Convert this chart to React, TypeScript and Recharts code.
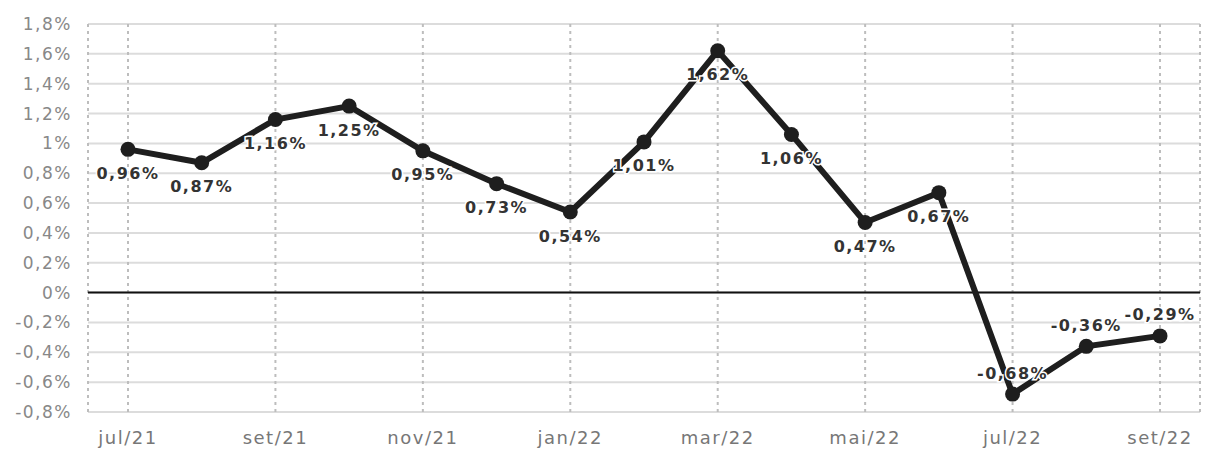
import {
  LineChart,
  Line,
  XAxis,
  YAxis,
  CartesianGrid,
  ReferenceLine,
  LabelList,
} from 'recharts';

const months = [
  'jul/21', 'ago/21', 'set/21', 'out/21', 'nov/21', 'dez/21', 'jan/22', 'fev/22',
  'mar/22', 'abr/22', 'mai/22', 'jun/22', 'jul/22', 'ago/22', 'set/22',
];
const ipca = [0.96, 0.87, 1.16, 1.25, 0.95, 0.73, 0.54, 1.01, 1.62, 1.06, 0.47, 0.67, -0.68, -0.36, -0.29];
const yTicks = [-0.8, -0.6, -0.4, -0.2, 0, 0.2, 0.4, 0.6, 0.8, 1, 1.2, 1.4, 1.6, 1.8];

const chartData = months.map((month, i) => ({ month, value: ipca[i] }));

const FONT = '"DejaVu Sans", Verdana, sans-serif';

function formatPct(v: number, digits: number): string {
  const s = digits === 1 ? String(Number(v.toFixed(1))) : v.toFixed(digits);
  return s.replace('.', ',') + '%';
}

function ValueLabel(props: any) {
  const { x, y, value } = props;
  const dy = value < 0 ? -21 : 24;
  return (
    <text
      x={x}
      y={y + dy}
      textAnchor="middle"
      dominantBaseline="central"
      fontFamily={FONT}
      fontSize={16}
      fontWeight="bold"
      letterSpacing={1.5}
      fill="#333"
      stroke="#fff"
      strokeWidth={3}
      paintOrder="stroke"
    >
      {formatPct(value, 2)}
    </text>
  );
}

export default function App() {
  return (
    <div style={{ width: 1205, height: 469, background: '#fff' }}>
      <style>{'body{margin:0}'}</style>
      <LineChart
        width={1205}
        height={469}
        data={chartData}
        margin={{ top: 24, right: 5, left: 8, bottom: 27 }}
      >
        <CartesianGrid vertical={false} stroke="#dcdcdc" strokeWidth={2} />
        <CartesianGrid horizontal={false} stroke="#bdbdbd" strokeDasharray="3 4" strokeWidth={2} />
        <XAxis
          dataKey="month"
          interval={1}
          padding={{ left: 40, right: 40 }}
          axisLine={false}
          tickLine={false}
          tickMargin={13}
          height={30}
          tick={{ fontSize: 18, fill: '#777', fontFamily: FONT, letterSpacing: 1.5 }}
        />
        <YAxis
          domain={[-0.8, 1.8]}
          ticks={yTicks}
          interval={0}
          width={80}
          axisLine={false}
          tickLine={false}
          tickMargin={10}
          tickFormatter={(v: number) => formatPct(v, 1)}
          tick={{ fontSize: 17, fill: '#888', fontFamily: FONT, letterSpacing: 1.5 }}
        />
        <ReferenceLine y={0} stroke="#111" strokeWidth={2} />
        <Line
          type="linear"
          dataKey="value"
          stroke="#1e1e1e"
          strokeWidth={6}
          dot={{ r: 7.5, fill: '#1e1e1e', stroke: 'none' }}
          isAnimationActive={false}
        >
          <LabelList dataKey="value" content={<ValueLabel />} />
        </Line>
      </LineChart>
    </div>
  );
}
